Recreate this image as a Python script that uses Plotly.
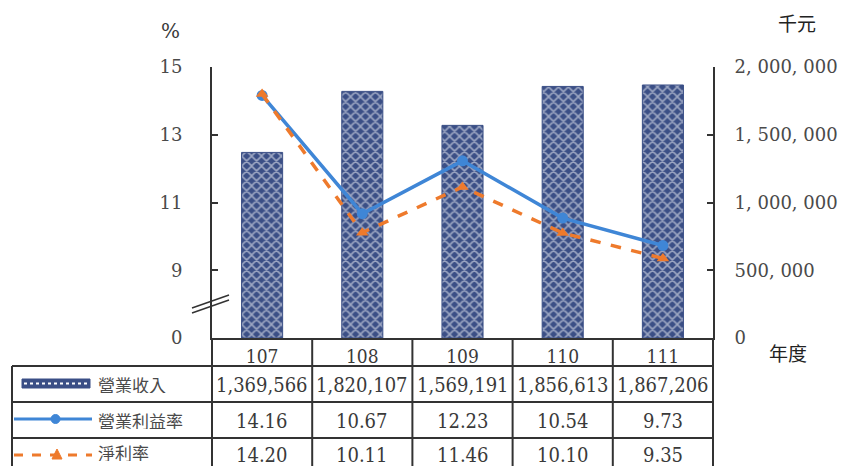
import plotly.graph_objects as go

years = ["107", "108", "109", "110", "111"]
revenue = [1369566, 1820107, 1569191, 1856613, 1867206]
op_margin = [14.16, 10.67, 12.23, 10.54, 9.73]
net_margin = [14.20, 10.11, 11.46, 10.10, 9.35]
series_names = ["營業收入", "營業利益率", "淨利率"]
rev_ticks = [0, 500000, 1000000, 1500000, 2000000]
pct_ticks = [7, 9, 11, 13, 15]
pct_ticktext = ["0", "9", "11", "13", "15"]

WIN_W, WIN_H = 857, 474
OFF = 8  # page body margin
W, H = WIN_W - 2 * OFF, WIN_H - 2 * OFF
L, R, T, B = 212, 713, 67, 338  # plot area in window pixels


def px(x):
    return (x - L) / (R - L)


def py(y):
    return (B - y) / (B - T)


NAVY = "#3b4f86"
BLUE = "#3f86d6"
ORANGE = "#ee7a2c"
LINE = "#333333"
TXT = "#3a3a3a"

fig = go.Figure()
fig.add_trace(go.Bar(
    x=years, y=revenue, name=series_names[0], width=0.41, yaxis="y",
    marker=dict(color=NAVY, line=dict(color=NAVY, width=1),
                pattern=dict(shape="x", fgcolor="white", bgcolor=NAVY,
                             size=7, solidity=0.4)),
))
fig.add_trace(go.Scatter(
    x=years, y=op_margin, name=series_names[1], yaxis="y2", mode="lines+markers",
    line=dict(color=BLUE, width=3.5), marker=dict(symbol="circle", size=11, color=BLUE),
))
fig.add_trace(go.Scatter(
    x=years, y=net_margin, name=series_names[2], yaxis="y2", mode="lines+markers",
    line=dict(color=ORANGE, width=3.5, dash="dash"),
    marker=dict(symbol="triangle-up", size=11, color=ORANGE),
))

shapes = []
ann = []


def hline(y, x0, x1):
    shapes.append(dict(type="line", xref="paper", yref="paper", x0=px(x0), x1=px(x1),
                       y0=py(y), y1=py(y), line=dict(color=LINE, width=2)))


def vline(x, y0, y1):
    shapes.append(dict(type="line", xref="paper", yref="paper", x0=px(x), x1=px(x),
                       y0=py(y0), y1=py(y1), line=dict(color=LINE, width=2)))


# table grid
row_lines = [366, 402, 438, 480]
for yy in row_lines:
    hline(yy, 12, R)
for k in range(6):
    vline(L + k * (R - L) / 5, B, 480)
vline(12, 366, 480)

# axis break marks
for dy in (0, -5):
    shapes.append(dict(type="line", xref="paper", yref="paper", x0=px(192), x1=px(229),
                       y0=py(313 + dy), y1=py(300 + dy), line=dict(color=LINE, width=1.5)))

# legend symbols in table
shapes.append(dict(type="rect", xref="paper", yref="paper", x0=px(22), x1=px(90),
                   y0=py(388), y1=py(379), fillcolor=NAVY, line=dict(color=NAVY, width=1)))
shapes.append(dict(type="line", xref="paper", yref="paper", x0=px(24), x1=px(88),
                   y0=py(383.5), y1=py(383.5), line=dict(color="white", width=2, dash="dot")))
shapes.append(dict(type="line", xref="paper", yref="paper", x0=px(14), x1=px(92),
                   y0=py(419), y1=py(419), line=dict(color=BLUE, width=3)))
shapes.append(dict(type="circle", xref="paper", yref="paper", x0=px(51), x1=px(60),
                   y0=py(423.5), y1=py(414.5), fillcolor=BLUE, line=dict(color=BLUE, width=1)))
shapes.append(dict(type="line", xref="paper", yref="paper", x0=px(14), x1=px(92),
                   y0=py(455), y1=py(455), line=dict(color=ORANGE, width=3, dash="dash")))
tx = [px(52), px(62), px(57)]
ty = [py(459), py(459), py(449)]
shapes.append(dict(type="path", xref="paper", yref="paper",
                   path=f"M {tx[0]} {ty[0]} L {tx[1]} {ty[1]} L {tx[2]} {ty[2]} Z",
                   fillcolor=ORANGE, line=dict(color=ORANGE, width=1)))

row_centers = [384.5, 420.5, 455]
label_centers = [384, 420, 452]
for name, yc in zip(series_names, label_centers):
    ann.append(dict(text=name, xref="paper", yref="paper", x=px(97), y=py(yc),
                    xanchor="left", yanchor="middle", showarrow=False, height=18,
                    borderpad=0, valign="middle",
                    font=dict(family="Noto Sans CJK TC", size=17, color="#4a4a4a")))

num_font = dict(family="DejaVu Serif Condensed", size=20, color=TXT)


def cell(text, i, yc):
    return dict(text=text, xref="x", yref="paper", x=i, y=py(yc), xanchor="center",
                yanchor="middle", showarrow=False, height=20, borderpad=0,
                valign="middle", font=num_font)


for i, yr in enumerate(years):
    ann.append(cell(f"{revenue[i]:,}", i, row_centers[0]))
    ann.append(cell(f"{op_margin[i]:.2f}", i, row_centers[1]))
    ann.append(cell(f"{net_margin[i]:.2f}", i, row_centers[2]))

ann.append(dict(text="%", xref="paper", yref="paper", x=px(170), y=py(31), xanchor="center",
                yanchor="middle", showarrow=False, font=dict(family="DejaVu Serif", size=20, color=TXT)))
ann.append(dict(text="千元", xref="paper", yref="paper", x=px(797), y=py(22), xanchor="center",
                yanchor="middle", showarrow=False, font=dict(family="Noto Sans CJK TC", size=19, color="#222")))
ann.append(dict(text="年度", xref="paper", yref="paper", x=px(788), y=py(352), xanchor="center",
                yanchor="middle", showarrow=False, font=dict(family="Noto Sans CJK TC", size=19, color="#222")))

tick_font = dict(family="DejaVu Serif", size=18, color="#4a4a4a")
fig.update_layout(
    width=W, height=H,
    margin=dict(l=L - OFF, r=W - (R - OFF), t=T - OFF, b=H - (B - OFF), pad=0),
    paper_bgcolor="white", plot_bgcolor="white",
    showlegend=False,
    bargap=0.59,
    xaxis=dict(type="category", range=[-0.5, 4.5], showline=True, linecolor=LINE, linewidth=2,
               ticks="", showgrid=False, zeroline=False,
               tickfont=dict(family="DejaVu Serif Condensed", size=19, color=TXT)),
    yaxis=dict(side="right", range=[0, 2000000], tickvals=rev_ticks,
               ticktext=[f"{v:,}".replace(",", ", ") for v in rev_ticks],
               ticks="inside", ticklen=6, tickwidth=2, tickcolor=LINE,
               showline=True, linecolor=LINE, linewidth=2, showgrid=False, zeroline=False,
               tickfont=tick_font, ticklabelstandoff=16),
    yaxis2=dict(side="left", overlaying="y", range=[7, 15], tickvals=pct_ticks,
                ticktext=pct_ticktext, ticks="inside", ticklen=6, tickwidth=2, tickcolor=LINE,
                showline=True, linecolor=LINE, linewidth=2, showgrid=False, zeroline=False,
                tickfont=tick_font, ticklabelstandoff=24),
    shapes=shapes, annotations=ann,
)
fig.write_html("out.html")
